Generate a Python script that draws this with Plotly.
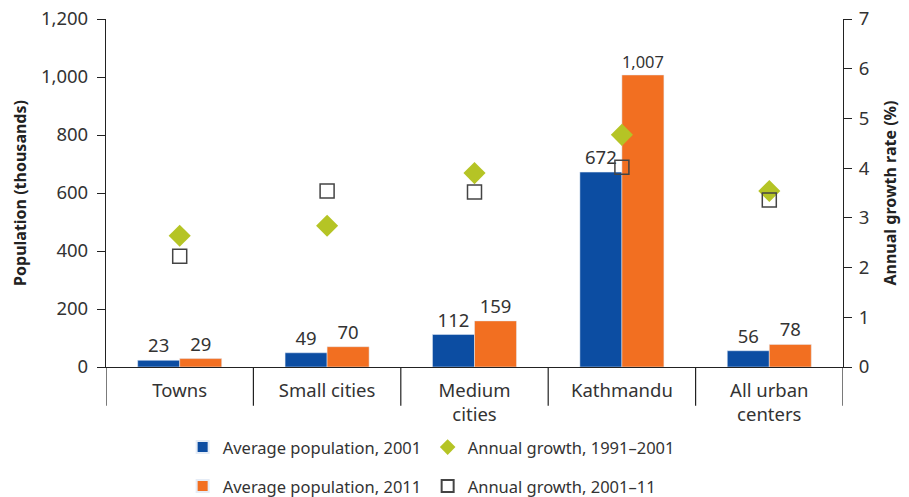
import plotly.graph_objects as go

categories = ["Towns", "Small cities", "Medium<br>cities", "Kathmandu", "All urban<br>centers"]
pop_2001 = [23, 49, 112, 672, 56]
pop_2011 = [29, 70, 159, 1007, 78]
growth_1991_2001 = [2.64, 2.84, 3.90, 4.67, 3.54]
growth_2001_11 = [2.23, 3.54, 3.52, 4.02, 3.36]
left_ticks = [0, 200, 400, 600, 800, 1000, 1200]
right_ticks = [0, 1, 2, 3, 4, 5, 6, 7]

FONT = "Noto Sans"
TXT = "#333333"
BLUE = "#0C4DA2"
ORANGE = "#F26F21"
GREEN = "#B5C425"

idx = list(range(len(categories)))

fig = go.Figure()
fig.add_trace(go.Bar(
    x=idx, y=pop_2001, name="Average population, 2001", marker_color=BLUE,
    text=[f"{v:,}" for v in pop_2001], textposition="outside", cliponaxis=False,
    textfont=dict(size=18.5, color=TXT, family=FONT), legend="legend", offsetgroup="a"))
fig.add_trace(go.Bar(
    x=idx, y=pop_2011, name="Average population, 2011", marker_color=ORANGE,
    text=[f"{v:,}" for v in pop_2011], textposition="outside", cliponaxis=False,
    textfont=dict(size=18.5, color=TXT, family=FONT), legend="legend2", offsetgroup="b"))
fig.add_trace(go.Scatter(
    x=idx, y=growth_1991_2001, name="Annual growth, 1991\u20132001", mode="markers",
    marker=dict(symbol="diamond", size=17, color=GREEN, line=dict(width=0)),
    yaxis="y2", legend="legend"))
fig.add_trace(go.Scatter(
    x=idx, y=growth_2001_11, name="Annual growth, 2001\u201311", mode="markers",
    marker=dict(symbol="square-open", size=14, color="#444444", line=dict(width=1.5)),
    yaxis="y2", legend="legend2"))

# category separators
for b in [i - 0.5 for i in range(len(categories) + 1)]:
    fig.add_shape(type="line", xref="x", yref="paper", x0=b, x1=b, y0=0, y1=-0.111,
                  line=dict(color="#222222", width=1.2))

legend_common = dict(orientation="h", xanchor="left", x=0.104, yanchor="middle",
                     font=dict(size=16.5, color=TXT, family=FONT),
                     entrywidth=200, entrywidthmode="pixels", bgcolor="rgba(0,0,0,0)",
                     itemwidth=30, tracegroupgap=0, itemsizing="constant")

fig.update_layout(
    width=909, height=497,
    margin=dict(l=106, r=66, t=19, b=130, autoexpand=False),
    paper_bgcolor="white", plot_bgcolor="white",
    font=dict(family=FONT, color=TXT, size=17),
    barmode="group", bargap=0.43, bargroupgap=0,
    showlegend=True,
    legend=dict(**legend_common, y=-0.231),
    legend2=dict(**legend_common, y=-0.343),
    xaxis=dict(
        tickmode="array", tickvals=idx, ticktext=categories, automargin=False,
        range=[-0.5, len(categories) - 0.5], showline=True, linecolor="#222222",
        linewidth=1.2, ticks="", showgrid=False, zeroline=False,
        tickfont=dict(size=18.5, color=TXT, family=FONT), ticklabelstandoff=7),
    yaxis=dict(
        range=[0, 1200], tickvals=left_ticks, ticktext=[f"{v:,}" for v in left_ticks],
        automargin=False, ticklabelstandoff=5,
        showline=True, linecolor="#222222", linewidth=1.2, ticks="outside", ticklen=8,
        tickcolor="#222222", showgrid=False, zeroline=False,
        tickfont=dict(size=18.5, color=TXT, family=FONT),
        title=dict(text="<b>Population (thousands)</b>", standoff=10,
                   font=dict(size=16, color="#222222", family=FONT))),
    yaxis2=dict(
        range=[0, 7], tickvals=right_ticks, overlaying="y", side="right", automargin=False,
        ticklabelstandoff=3,
        showline=True, linecolor="#222222", linewidth=1.2, ticks="outside", ticklen=8,
        tickcolor="#222222", showgrid=False, zeroline=False,
        tickfont=dict(size=18.5, color=TXT, family=FONT),
        title=dict(text="<b>Annual growth rate (%)</b>", standoff=16,
                   font=dict(size=16, color="#222222", family=FONT))),
)

# remove the default 8px body margin so the figure fills the window exactly
fig.write_html("out.html", config={"displayModeBar": False},
               post_script="document.body.style.margin='0';")
